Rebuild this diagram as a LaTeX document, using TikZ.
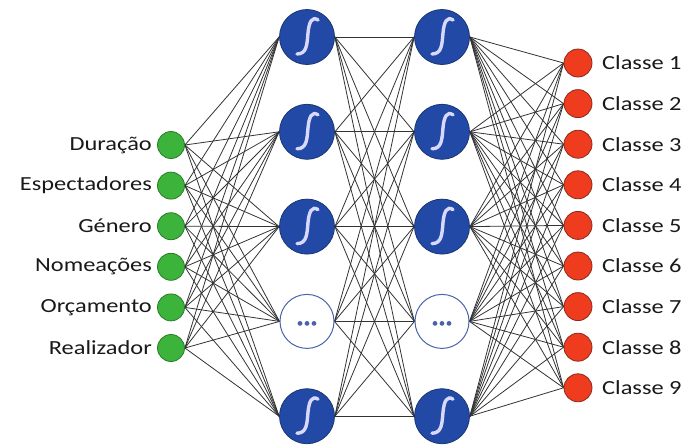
\documentclass[tikz,border=0pt]{standalone}
\usepackage{fontspec}
\usepackage{graphicx}
\setmainfont{Carlito}
\pgfdeclarelayer{bg}
\pgfsetlayers{bg,main}
\definecolor{inGreen}{HTML}{3CB43C}
\definecolor{inGreenDark}{HTML}{2A7A2A}
\definecolor{outRed}{HTML}{F03C1E}
\definecolor{outRedDark}{HTML}{8A2A1C}
\definecolor{hidBlue}{HTML}{2249A6}
\definecolor{hidBlueDark}{HTML}{1A3672}
\definecolor{dotBlue}{HTML}{4A64AC}
\definecolor{wire}{HTML}{333333}
\newcommand{\lbltext}[1]{\scalebox{1.22}[1]{\fontsize{20}{22}\selectfont #1}}
\tikzset{
  innode/.style={circle, fill=inGreen, draw=inGreenDark, line width=0.8pt, minimum size=27pt, inner sep=0pt},
  outnode/.style={circle, fill=outRed, draw=outRedDark, line width=0.8pt, minimum size=28pt, inner sep=0pt},
  hidnode/.style={circle, fill=hidBlue, draw=hidBlueDark, line width=0.8pt, minimum size=55pt, inner sep=0pt},
  dotnode/.style={circle, fill=white, draw=dotBlue, line width=1pt, minimum size=54pt, inner sep=0pt},
  inlabel/.style={anchor=east, inner sep=0pt, text=black!90},
  outlabel/.style={anchor=west, inner sep=0pt, text=black!90},
  wireline/.style={draw=wire, line width=0.8pt},
  sigcurve/.style={draw=white!85!blue, line width=3.4pt, line cap=round},
}
\begin{document}
\begin{tikzpicture}[x=1pt, y=-1pt]
\useasboundingbox (0,0) rectangle (686,445);

% input layer
\foreach \t [count=\i] in {Duração,Espectadores,Género,Nomeações,Orçamento,Realizador} {
  \node[innode] (i\i) at (171, {145+40.6*(\i-1)}) {};
  \node[inlabel] (li\i) at (152, {145+40.6*(\i-1)}) {\lbltext{\t}};
}

% two hidden layers
\foreach \k in {1,...,5} {
  \pgfmathsetmacro{\yy}{37+94.8*(\k-1)}
  \ifnum\k=4
    \node[dotnode] (a\k) at (307,\yy) {};
    \node[dotnode] (b\k) at (442,\yy) {};
  \else
    \node[hidnode] (a\k) at (307,\yy) {};
    \node[hidnode] (b\k) at (442,\yy) {};
  \fi
}

% output layer
\foreach \k in {1,...,9} {
  \node[outnode] (o\k) at (578, {63+40.6*(\k-1)}) {};
  \node[outlabel] (lo\k) at (602, {63+40.6*(\k-1)}) {\lbltext{Classe \k}};
}

% sigmoid glyphs
\foreach \n in {a1,a2,a3,a5,b1,b2,b3,b5} {
  \begin{scope}[shift={(\n.center)}]
    \draw[sigcurve] (11,-17) .. controls (5,-21) and (2,-15) .. (1,-4)
      .. controls (0,7) and (0,17) .. (-10,17);
  \end{scope}
}

% ellipsis marks
\foreach \n in {a4,b4} {
  \foreach \dx in {-7,0,7} {
    \fill[dotBlue] ([xshift=\dx pt, yshift=-2pt]\n.center) circle (2.4pt);
  }
}

% fully connected wiring
\begin{pgfonlayer}{bg}
  \foreach \i in {1,...,6} \foreach \k in {1,...,5}
    \draw[wireline] (i\i.east) -- (a\k.west);
  \foreach \i in {1,...,5} \foreach \k in {1,...,5}
    \draw[wireline] (a\i.east) -- (b\k.west);
  \foreach \i in {1,...,5} \foreach \k in {1,...,9}
    \draw[wireline] (b\i.east) -- (o\k.west);
\end{pgfonlayer}
\end{tikzpicture}
\end{document}
